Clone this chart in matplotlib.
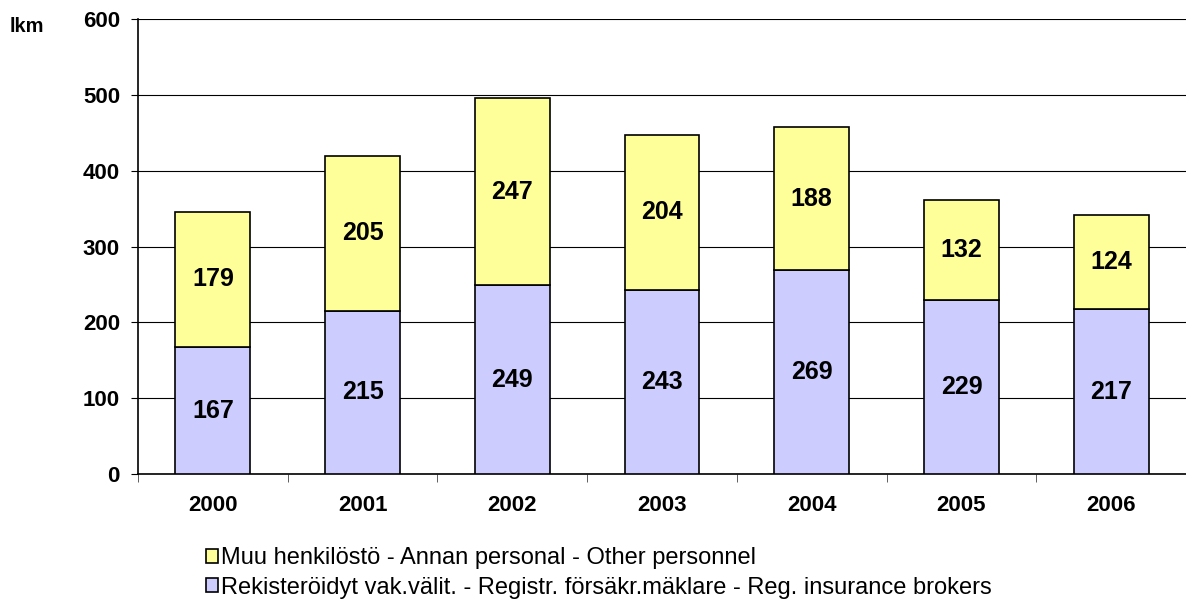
import matplotlib
matplotlib.use("Agg")
import matplotlib.pyplot as plt
import numpy as np
from matplotlib.patches import Patch

plt.rcParams['font.family'] = ['Liberation Sans', 'DejaVu Sans']

years = ['2000', '2001', '2002', '2003', '2004', '2005', '2006']
brokers = [167, 215, 249, 243, 269, 229, 217]
other = [179, 205, 247, 204, 188, 132, 124]

label_brokers = "Rekisteröidyt vak.välit. - Registr. försäkr.mäklare - Reg. insurance brokers"
label_other = "Muu henkilöstö - Annan personal - Other personnel"

col_brokers = '#CCCCFF'
col_other = '#FFFF99'

fig = plt.figure(figsize=(11.86, 6.11), dpi=100)
ax = fig.add_axes([0.1164, 0.2242, 0.8836, 0.7447])

X = np.arange(len(years))
b = np.array(brokers)
o = np.array(other)

ax.bar(X, b, width=0.5, color=col_brokers, edgecolor='black', linewidth=1.2, zorder=3)
ax.bar(X, o, width=0.5, bottom=b, color=col_other, edgecolor='black', linewidth=1.2, zorder=3)

for i in range(len(X)):
    ax.text(X[i], b[i] / 2.0, str(b[i]), ha='center', va='center',
            fontsize=18, fontweight='bold', zorder=4)
    ax.text(X[i], b[i] + o[i] / 2.0, str(o[i]), ha='center', va='center',
            fontsize=18, fontweight='bold', zorder=4)

ax.set_xlim(-0.5, len(X) - 0.5)
ax.set_ylim(0, 600)
ax.set_yticks(range(0, 601, 100))
ax.grid(axis='y', color='black', linewidth=0.8, zorder=0)

ax.set_xticks(X)
ax.set_xticklabels(years, fontsize=16, fontweight='bold')
ax.tick_params(axis='x', which='major', length=0, pad=15)
ax.set_xticks(np.arange(-0.5, len(X), 1.0), minor=True)
ax.tick_params(axis='x', which='minor', length=6, direction='out', color='#444444')
ax.tick_params(axis='y', length=5, direction='out', labelsize=16, pad=8)
for t in ax.get_yticklabels():
    t.set_fontweight('bold')

ax.spines['top'].set_visible(False)
ax.spines['right'].set_visible(False)
ax.spines['left'].set_linewidth(1.2)
ax.spines['bottom'].set_linewidth(1.2)

fig.text(0.008, 0.957, 'lkm', fontsize=14.5, fontweight='bold', va='center', ha='left')

# legend, yellow first
handles = [Patch(facecolor=col_other, edgecolor='black', linewidth=1.2, label=label_other),
           Patch(facecolor=col_brokers, edgecolor='black', linewidth=1.2, label=label_brokers)]
fig.legend(handles=handles, loc='upper left', bbox_to_anchor=(0.174, 0.104),
           frameon=False, fontsize=17, handlelength=0.5, handleheight=0.5,
           handletextpad=0.12, labelspacing=0.3, borderaxespad=0, borderpad=0)

fig.savefig('out.png', dpi=100)
